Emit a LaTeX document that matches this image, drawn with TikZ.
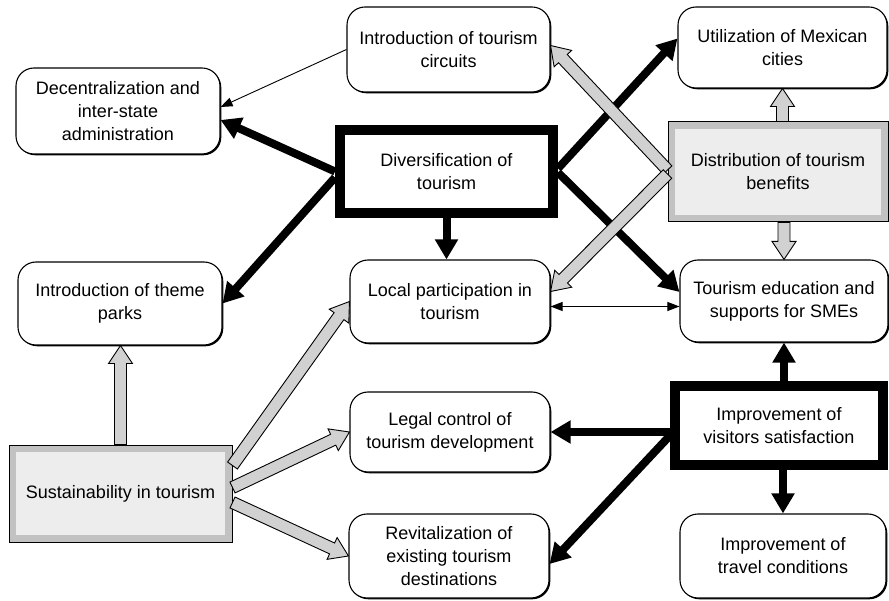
\documentclass[tikz,border=0pt]{standalone}
\usepackage{fontspec}
\setmainfont{Liberation Sans}
\usetikzlibrary{arrows.meta,calc,shadows}

\tikzset{
  txt/.style={align=center, inner sep=2pt, font=\fontsize{18}{23}\selectfont},
  box/.style={txt, draw=black, line width=1.1pt, rounded corners=18pt, fill=white,
    general shadow={fill=black, shadow xshift=1.3pt, shadow yshift=-1.3pt}},
  keybox/.style={txt, draw=black, line width=10pt, fill=white},
  graybox/.style={txt, draw=black, line width=1pt, fill=black!7,
    path picture={\draw[black!24, line width=14pt]
      (path picture bounding box.north west) rectangle (path picture bounding box.south east);}},
  heavyarrow/.style={line width=8pt, -{Triangle[length=20pt,width=22pt]}},
  lightarrow/.style={line width=0.9pt, -{Triangle[length=12pt,width=9pt]}},
  fatstyle/.style={draw=black, line width=0.9pt, fill=black!18, line join=miter},
}

% hollow block arrow from #1 to #2
\newcommand\fatarrow[2]{%
  \coordinate (fatA) at #1;
  \coordinate (fatB) at #2;
  \coordinate (fatH) at ($(fatB)!18pt!(fatA)$);
  \draw[fatstyle] ($(fatA)!6pt!90:(fatB)$) -- ($(fatH)!6pt!90:(fatB)$)
    -- ($(fatH)!12pt!90:(fatB)$) -- (fatB) -- ($(fatH)!12pt!-90:(fatB)$)
    -- ($(fatH)!6pt!-90:(fatB)$) -- ($(fatA)!6pt!-90:(fatB)$) -- cycle;
}

\begin{document}
\begin{tikzpicture}[x=1pt, y=-1pt]
\useasboundingbox[fill=white] (0,0) rectangle (889,601);

% nodes
\node[box, minimum width=204pt, minimum height=86pt] (dec) at (118,111)
  {Decentralization and\\inter-state\\administration};
\node[box, minimum width=203pt, minimum height=85pt] (circ) at (448.5,49.5)
  {Introduction of tourism\\circuits};
\node[box, minimum width=209pt, minimum height=81pt] (util) at (782.5,47.5)
  {Utilization of Mexican\\cities};
\node[keybox, minimum width=213pt, minimum height=83pt] (div) at (446.5,171.5)
  {Diversification of\\tourism};
\node[graybox, minimum width=220pt, minimum height=100pt] (dist) at (778,172)
  {Distribution of tourism\\benefits};
\node[box, minimum width=204pt, minimum height=83pt] (theme) at (120,303.5)
  {Introduction of theme\\parks};
\node[box, minimum width=200pt, minimum height=83pt] (local) at (450,301.5)
  {Local participation in\\tourism};
\node[box, minimum width=208pt, minimum height=82pt] (edu) at (784,301)
  {Tourism education and\\supports for SMEs};
\node[graybox, minimum width=223pt, minimum height=97pt] (sust) at (120.5,493.5)
  {Sustainability in tourism};
\node[box, minimum width=200pt, minimum height=80pt] (legal) at (450,432)
  {Legal control of\\tourism development};
\node[keybox, minimum width=208pt, minimum height=79pt] (vis) at (779,425.5)
  {Improvement of\\visitors satisfaction};
\node[box, minimum width=200pt, minimum height=84pt] (revit) at (449,556)
  {Revitalization of\\existing tourism\\destinations};
\node[box, minimum width=206pt, minimum height=84pt] (travel) at (783,556)
  {Improvement of\\travel conditions};

% heavy black arrows
\draw[heavyarrow] (div.west) -- ([yshift=-9pt]dec.east);
\draw[heavyarrow] ([yshift=-6pt]div.west) -- (theme.east);
\draw[heavyarrow] (div.south) -- (div.south |- local.north);
\draw[heavyarrow] ([yshift=3pt]div.east) -- ([yshift=9pt]util.west);
\draw[heavyarrow] ([yshift=-1pt]div.east) -- ([yshift=9pt]edu.west);
\draw[heavyarrow] (edu.south |- vis.north) -- (edu.south);
\draw[heavyarrow] (vis.west |- legal.east) -- (legal.east);
\draw[heavyarrow] ([yshift=-10pt]vis.west) -- ([yshift=-8pt]revit.east);
\draw[heavyarrow] (travel.north |- vis.south) -- (travel.north);

% light arrows
\draw[lightarrow] (circ.west) -- ([yshift=4pt]dec.east);
\draw[lightarrow, {Triangle[length=12pt,width=9pt]}-{Triangle[length=12pt,width=9pt]}]
  ([yshift=-5pt]local.east) -- ([yshift=-5pt]local.east -| edu.west);

% hollow block arrows
\fatarrow{(sust.north)}{(sust.north |- theme.south)}
\fatarrow{([yshift=28pt]sust.east)}{(local.west)}
\fatarrow{([yshift=6pt]sust.east)}{(legal.west)}
\fatarrow{([yshift=-9pt]sust.east)}{(revit.west)}
\fatarrow{([yshift=2pt]dist.west)}{([yshift=4pt]circ.east)}
\fatarrow{([yshift=-2pt]dist.west)}{([yshift=10pt]local.east)}
\fatarrow{(util.south |- dist.north)}{(util.south)}
\fatarrow{(edu.north |- dist.south)}{(edu.north)}
\end{tikzpicture}
\end{document}
